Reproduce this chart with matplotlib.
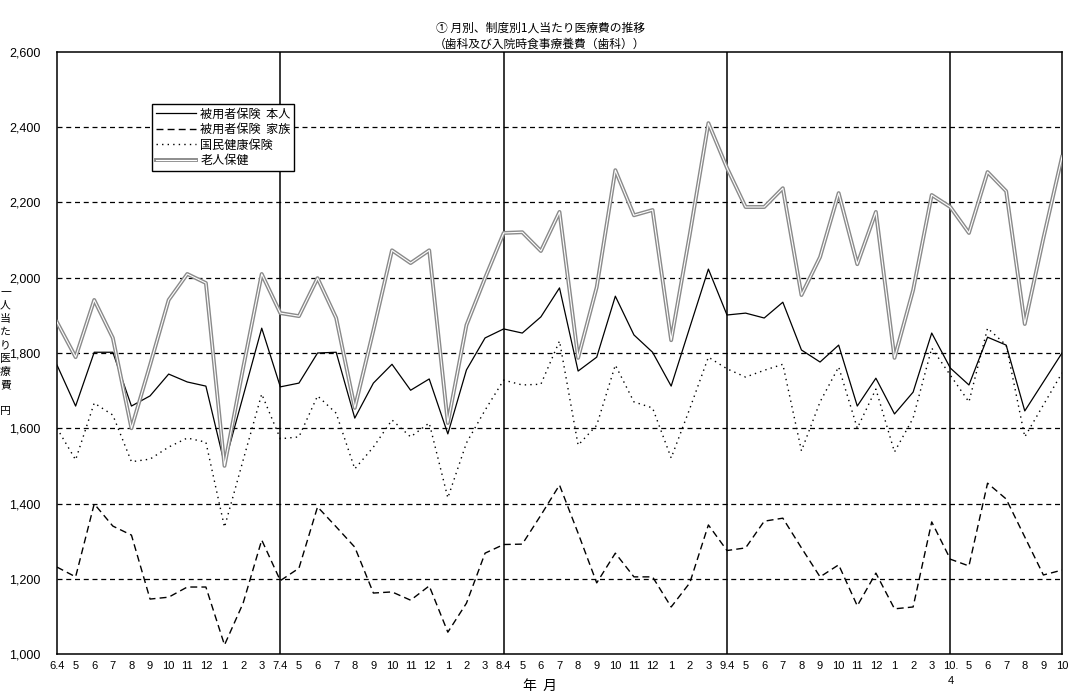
#!/usr/bin/env python3

import numpy as np
import matplotlib
matplotlib.use('Agg')
import matplotlib.pyplot as plt
import matplotlib.patheffects as pe

plt.rcParams['font.family'] = ['Noto Sans CJK JP', 'DejaVu Sans']

# months H6.4 .. H10.10
months = ['6.4', '5', '6', '7', '8', '9', '10', '11', '12', '1', '2', '3',
          '7.4', '5', '6', '7', '8', '9', '10', '11', '12', '1', '2', '3',
          '8.4', '5', '6', '7', '8', '9', '10', '11', '12', '1', '2', '3',
          '9.4', '5', '6', '7', '8', '9', '10', '11', '12', '1', '2', '3',
          '10.\n4', '5', '6', '7', '8', '9', '10']

honnin = [1768, 1659, 1802, 1802, 1659, 1686, 1744, 1723, 1712, 1505, 1685, 1866,
          1710, 1720, 1800, 1802, 1627, 1720, 1770, 1701, 1731, 1585, 1755, 1840,
          1864, 1853, 1896, 1973, 1752, 1789, 1951, 1848, 1802, 1712, 1868, 2023,
          1901, 1906, 1893, 1935, 1808, 1776, 1821, 1659, 1733, 1638, 1696, 1853,
          1760, 1715, 1842, 1821, 1646, 1723, 1800]

kazoku = [1231, 1205, 1399, 1340, 1316, 1146, 1151, 1178, 1178, 1024, 1135, 1303,
          1195, 1228, 1391, 1338, 1284, 1162, 1165, 1143, 1181, 1058, 1135, 1268,
          1291, 1292, 1369, 1449, 1321, 1189, 1268, 1205, 1205, 1125, 1189, 1343,
          1275, 1282, 1353, 1361, 1282, 1205, 1237, 1128, 1215, 1120, 1125, 1351,
          1252, 1234, 1454, 1412, 1311, 1210, 1223]

kokuho = [1600, 1516, 1667, 1635, 1511, 1518, 1550, 1574, 1563, 1337, 1515, 1691,
          1572, 1577, 1686, 1640, 1492, 1550, 1622, 1577, 1614, 1415, 1561, 1648,
          1728, 1715, 1717, 1832, 1555, 1608, 1768, 1670, 1654, 1521, 1652, 1789,
          1758, 1736, 1754, 1770, 1540, 1670, 1763, 1600, 1704, 1537, 1627, 1813,
          1741, 1670, 1866, 1821, 1577, 1662, 1747]

rojin = [1882, 1789, 1941, 1840, 1600, 1768, 1941, 2010, 1986, 1500, 1760, 2010,
         1906, 1898, 1999, 1893, 1654, 1860, 2073, 2039, 2073, 1614, 1874, 1999,
         2119, 2121, 2071, 2175, 1787, 1975, 2286, 2166, 2180, 1834, 2115, 2411,
         2292, 2188, 2188, 2238, 1954, 2055, 2225, 2036, 2175, 1787, 1967, 2220,
         2188, 2119, 2281, 2230, 1877, 2105, 2321]

yticks = [1000, 1200, 1400, 1600, 1800, 2000, 2200, 2400, 2600]
year_starts = [12, 24, 36, 48]


def plot():
    fig = plt.figure(figsize=(10.79, 7.0), dpi=100)
    ax = fig.add_axes([57/1079, 1-654/700, (1062-57)/1079, (654-52)/700])
    x = np.arange(len(months))

    for yv in yticks[1:-1]:
        ax.axhline(yv, color='black', lw=0.9, ls=(0, (4, 3)), zorder=1)
    for xs in year_starts:
        ax.axvline(xs, color='black', lw=1.1, zorder=1)

    ax.plot(x, honnin, color='black', lw=0.9, label='被用者保険  本人', zorder=3)
    ax.plot(x, kazoku, color='black', lw=1.0, ls=(0, (5, 3)),
            label='被用者保険  家族', zorder=3)
    ax.plot(x, kokuho, color='black', lw=1.0, ls=(0, (1, 3)),
            label='国民健康保険', zorder=3)
    ax.plot(x, rojin, color='white', lw=0.8, label='老人保健', zorder=3,
            path_effects=[pe.Stroke(linewidth=2.8, foreground='#8a8a8a'), pe.Normal()])

    ax.set_xlim(0, len(months) - 1)
    ax.set_ylim(1000, 2600)
    ax.set_yticks(yticks)
    ax.set_yticklabels(['{:,}'.format(v) for v in yticks], fontsize=9,
                       family=['Liberation Sans', 'DejaVu Sans'])
    ax.set_xticks(x)
    ax.set_xticklabels(months, fontsize=8, va='top', linespacing=1.6,
                       family=['Liberation Sans', 'DejaVu Sans'])
    ax.tick_params(axis='both', length=0)
    ax.tick_params(axis='x', pad=5)
    ax.tick_params(axis='y', pad=12)
    for s in ax.spines.values():
        s.set_linewidth(1.1)

    fig.text(540/1079, 1-28/700, '① 月別、制度別1人当たり医療費の推移',
             ha='center', va='center', fontsize=8.5)
    fig.text(540/1079, 1-44/700, '（歯科及び入院時食事療養費（歯科））',
             ha='center', va='center', fontsize=8.5)
    fig.text(540/1079, 1-686/700, '年  月', ha='center', va='center', fontsize=10)
    fig.text(5.5/1079, 1-352/700, '一\n人\n当\nた\nり\n医\n療\n費\n\n円',
             ha='center', va='center', fontsize=7.8, linespacing=1.4)

    leg = ax.legend(loc='upper left', bbox_to_anchor=(152/1079, 1-104/700),
                    bbox_transform=fig.transFigure, borderaxespad=0,
                    fontsize=8.7, handlelength=3.3, handletextpad=0.4,
                    labelspacing=0.2, borderpad=0.3, fancybox=False,
                    framealpha=1, edgecolor='black')
    leg.get_frame().set_linewidth(1.0)
    return fig


if __name__ == '__main__':
    fig = plot()
    fig.savefig('out.png', dpi=100)
